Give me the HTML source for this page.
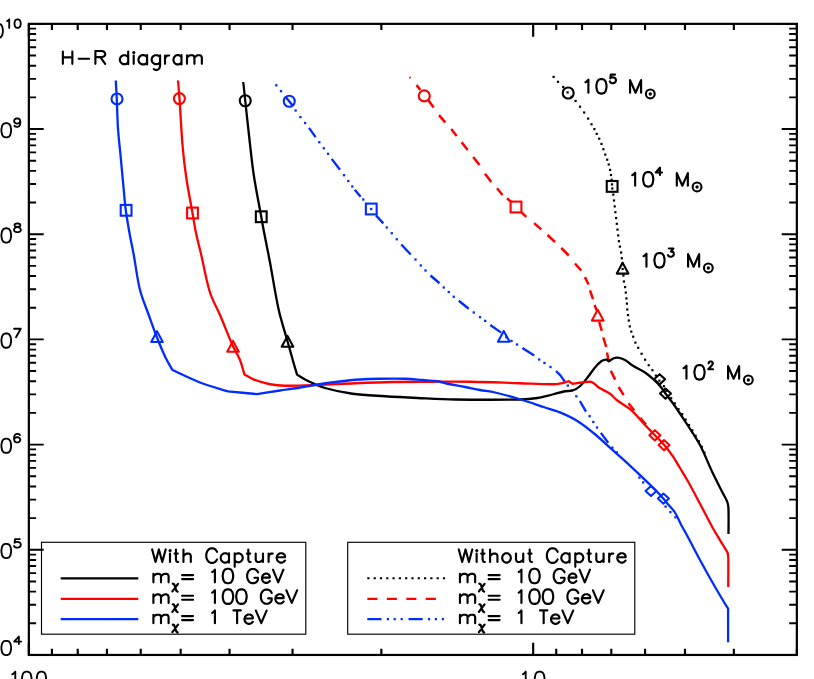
<!DOCTYPE html>
<html><head><meta charset="utf-8"><title>H-R diagram</title>
<style>html,body{margin:0;padding:0;background:#fff;font-family:"Liberation Sans",sans-serif;}svg{display:block}</style>
</head><body>
<svg width="814" height="679" viewBox="0 0 814 679">
<rect width="814" height="679" fill="#fff"/>
<rect x="28.85" y="23.85" width="768.00" height="631.10" fill="none" stroke="#000" stroke-width="2.2"/>
<path d="M28.85 654.95 H43.70 M796.85 654.95 H781.70 M28.85 623.29 H36.10 M796.85 623.29 H789.20 M28.85 604.76 H36.10 M796.85 604.76 H789.20 M28.85 591.62 H36.10 M796.85 591.62 H789.20 M28.85 581.43 H36.10 M796.85 581.43 H789.20 M28.85 573.10 H36.10 M796.85 573.10 H789.20 M28.85 566.06 H36.10 M796.85 566.06 H789.20 M28.85 559.96 H36.10 M796.85 559.96 H789.20 M28.85 554.58 H36.10 M796.85 554.58 H789.20 M28.85 549.77 H43.70 M796.85 549.77 H781.70 M28.85 518.10 H36.10 M796.85 518.10 H789.20 M28.85 499.58 H36.10 M796.85 499.58 H789.20 M28.85 486.44 H36.10 M796.85 486.44 H789.20 M28.85 476.25 H36.10 M796.85 476.25 H789.20 M28.85 467.92 H36.10 M796.85 467.92 H789.20 M28.85 460.88 H36.10 M796.85 460.88 H789.20 M28.85 454.78 H36.10 M796.85 454.78 H789.20 M28.85 449.40 H36.10 M796.85 449.40 H789.20 M28.85 444.58 H43.70 M796.85 444.58 H781.70 M28.85 412.92 H36.10 M796.85 412.92 H789.20 M28.85 394.40 H36.10 M796.85 394.40 H789.20 M28.85 381.26 H36.10 M796.85 381.26 H789.20 M28.85 371.06 H36.10 M796.85 371.06 H789.20 M28.85 362.73 H36.10 M796.85 362.73 H789.20 M28.85 355.69 H36.10 M796.85 355.69 H789.20 M28.85 349.59 H36.10 M796.85 349.59 H789.20 M28.85 344.21 H36.10 M796.85 344.21 H789.20 M28.85 339.40 H43.70 M796.85 339.40 H781.70 M28.85 307.74 H36.10 M796.85 307.74 H789.20 M28.85 289.21 H36.10 M796.85 289.21 H789.20 M28.85 276.07 H36.10 M796.85 276.07 H789.20 M28.85 265.88 H36.10 M796.85 265.88 H789.20 M28.85 257.55 H36.10 M796.85 257.55 H789.20 M28.85 250.51 H36.10 M796.85 250.51 H789.20 M28.85 244.41 H36.10 M796.85 244.41 H789.20 M28.85 239.03 H36.10 M796.85 239.03 H789.20 M28.85 234.22 H43.70 M796.85 234.22 H781.70 M28.85 202.55 H36.10 M796.85 202.55 H789.20 M28.85 184.03 H36.10 M796.85 184.03 H789.20 M28.85 170.89 H36.10 M796.85 170.89 H789.20 M28.85 160.70 H36.10 M796.85 160.70 H789.20 M28.85 152.37 H36.10 M796.85 152.37 H789.20 M28.85 145.33 H36.10 M796.85 145.33 H789.20 M28.85 139.23 H36.10 M796.85 139.23 H789.20 M28.85 133.85 H36.10 M796.85 133.85 H789.20 M28.85 129.03 H43.70 M796.85 129.03 H781.70 M28.85 97.37 H36.10 M796.85 97.37 H789.20 M28.85 78.85 H36.10 M796.85 78.85 H789.20 M28.85 65.71 H36.10 M796.85 65.71 H789.20 M28.85 55.51 H36.10 M796.85 55.51 H789.20 M28.85 47.18 H36.10 M796.85 47.18 H789.20 M28.85 40.14 H36.10 M796.85 40.14 H789.20 M28.85 34.04 H36.10 M796.85 34.04 H789.20 M28.85 28.66 H36.10 M796.85 28.66 H789.20 M28.85 23.85 H43.70 M796.85 23.85 H781.70" fill="none" stroke="#000" stroke-width="1.9"/>
<path d="M28.85 654.95 V642.65 M28.85 23.85 V36.70 M51.93 654.95 V648.80 M51.93 23.85 V30.00 M77.72 654.95 V648.80 M77.72 23.85 V30.00 M106.97 654.95 V648.80 M106.97 23.85 V30.00 M140.73 654.95 V648.80 M140.73 23.85 V30.00 M180.66 654.95 V648.80 M180.66 23.85 V30.00 M229.53 654.95 V648.80 M229.53 23.85 V30.00 M292.54 654.95 V648.80 M292.54 23.85 V30.00 M381.35 654.95 V648.80 M381.35 23.85 V30.00 M533.16 654.95 V642.65 M533.16 23.85 V36.70 M556.23 654.95 V648.80 M556.23 23.85 V30.00 M582.03 654.95 V648.80 M582.03 23.85 V30.00 M611.28 654.95 V648.80 M611.28 23.85 V30.00 M645.04 654.95 V648.80 M645.04 23.85 V30.00 M684.97 654.95 V648.80 M684.97 23.85 V30.00 M733.84 654.95 V648.80 M733.84 23.85 V30.00 M796.85 654.95 V648.80 M796.85 23.85 V30.00" fill="none" stroke="#000" stroke-width="2.15"/>
<path d="M11.10 646.93 L10.41 643.52 L9.02 641.48 L6.94 640.80 L5.56 640.80 L3.48 641.48 L2.09 643.52 L1.40 646.93 L1.40 648.97 L2.09 652.38 L3.48 654.42 L5.56 655.10 L6.94 655.10 L9.02 654.42 L10.41 652.38 L11.10 648.97 L11.10 646.93 M21.25 641.60 L14.10 641.60 L18.87 636.60 L18.87 644.10 M11.10 549.95 L10.41 546.54 L9.02 544.50 L6.94 543.82 L5.56 543.82 L3.48 544.50 L2.09 546.54 L1.40 549.95 L1.40 551.99 L2.09 555.39 L3.48 557.44 L5.56 558.12 L6.94 558.12 L9.02 557.44 L10.41 555.39 L11.10 551.99 L11.10 549.95 M14.10 545.99 L14.58 546.80 L15.05 547.21 L16.48 547.62 L17.92 547.62 L19.35 547.21 L20.30 546.40 L20.78 545.17 L20.78 544.36 L20.30 543.14 L19.35 542.32 L17.92 541.92 L16.48 541.92 L15.05 542.32 L14.58 542.73 L15.05 539.07 L19.82 539.07 M11.10 444.76 L10.41 441.36 L9.02 439.31 L6.94 438.63 L5.56 438.63 L3.48 439.31 L2.09 441.36 L1.40 444.76 L1.40 446.80 L2.09 450.21 L3.48 452.25 L5.56 452.93 L6.94 452.93 L9.02 452.25 L10.41 450.21 L11.10 446.80 L11.10 444.76 M19.82 435.10 L19.35 434.29 L17.92 433.88 L16.96 433.88 L15.53 434.29 L14.58 435.51 L14.10 437.55 L14.10 439.58 L14.58 438.36 L15.53 437.55 L16.96 437.14 L17.44 437.14 L18.87 437.55 L19.82 438.36 L20.30 439.58 L20.30 439.99 L19.82 441.21 L18.87 442.03 L17.44 442.43 L16.96 442.43 L15.53 442.03 L14.58 441.21 L14.10 439.58 M11.10 339.58 L10.41 336.17 L9.02 334.13 L6.94 333.45 L5.56 333.45 L3.48 334.13 L2.09 336.17 L1.40 339.58 L1.40 341.62 L2.09 345.03 L3.48 347.07 L5.56 347.75 L6.94 347.75 L9.02 347.07 L10.41 345.03 L11.10 341.62 L11.10 339.58 M14.10 328.70 L20.78 328.70 L16.01 337.25 M11.10 234.40 L10.41 230.99 L9.02 228.95 L6.94 228.27 L5.56 228.27 L3.48 228.95 L2.09 230.99 L1.40 234.40 L1.40 236.44 L2.09 239.84 L3.48 241.89 L5.56 242.57 L6.94 242.57 L9.02 241.89 L10.41 239.84 L11.10 236.44 L11.10 234.40 M14.58 225.55 L14.58 224.74 L15.05 223.92 L16.48 223.52 L18.39 223.52 L19.82 223.92 L20.30 224.74 L20.30 225.55 L19.82 226.37 L18.87 226.77 L16.96 227.18 L15.53 227.59 L14.58 228.40 L14.10 229.22 L14.10 230.44 L14.58 231.25 L15.05 231.66 L16.48 232.07 L18.39 232.07 L19.82 231.66 L20.30 231.25 L20.78 230.44 L20.78 229.22 L20.30 228.40 L19.35 227.59 L17.92 227.18 L16.01 226.77 L15.05 226.37 L14.58 225.55 M11.10 129.21 L10.41 125.81 L9.02 123.76 L6.94 123.08 L5.56 123.08 L3.48 123.76 L2.09 125.81 L1.40 129.21 L1.40 131.25 L2.09 134.66 L3.48 136.70 L5.56 137.38 L6.94 137.38 L9.02 136.70 L10.41 134.66 L11.10 131.25 L11.10 129.21 M20.30 121.18 L19.82 119.55 L18.87 118.74 L17.44 118.33 L16.96 118.33 L15.53 118.74 L14.58 119.55 L14.10 120.78 L14.10 121.18 L14.58 122.40 L15.53 123.22 L16.96 123.63 L17.44 123.63 L18.87 123.22 L19.82 122.40 L20.30 121.18 L20.30 123.22 L19.82 125.25 L18.87 126.48 L17.44 126.88 L16.48 126.88 L15.05 126.48 L14.58 125.66 M2.90 29.83 L2.21 26.42 L0.82 24.38 L-1.26 23.70 L-2.64 23.70 L-4.72 24.38 L-6.11 26.42 L-6.80 29.83 L-6.80 31.87 L-6.11 35.28 L-4.72 37.32 L-2.64 38.00 L-1.26 38.00 L0.82 37.32 L2.21 35.28 L2.90 31.87 L2.90 29.83 M7.20 20.98 L8.00 20.57 L9.20 19.35 L9.20 27.90 M20.70 23.01 L20.26 20.98 L19.37 19.76 L18.04 19.35 L17.16 19.35 L15.83 19.76 L14.94 20.98 L14.50 23.01 L14.50 24.24 L14.94 26.27 L15.83 27.49 L17.16 27.90 L18.04 27.90 L19.37 27.49 L20.26 26.27 L20.70 24.24 L20.70 23.01" fill="none" stroke="#000000" stroke-width="1.85" stroke-linecap="round" stroke-linejoin="round"/>
<path d="M12.20 674.32 L13.44 673.64 L15.30 671.60 L15.30 685.90 M31.50 677.73 L30.82 674.32 L29.46 672.28 L27.43 671.60 L26.07 671.60 L24.04 672.28 L22.68 674.32 L22.00 677.73 L22.00 679.77 L22.68 683.18 L24.04 685.22 L26.07 685.90 L27.43 685.90 L29.46 685.22 L30.82 683.18 L31.50 679.77 L31.50 677.73 M46.10 677.73 L45.44 674.32 L44.11 672.28 L42.11 671.60 L40.79 671.60 L38.79 672.28 L37.46 674.32 L36.80 677.73 L36.80 679.77 L37.46 683.18 L38.79 685.22 L40.79 685.90 L42.11 685.90 L44.11 685.22 L45.44 683.18 L46.10 679.77 L46.10 677.73 M522.95 674.32 L524.05 673.64 L525.70 671.60 L525.70 685.90 M544.50 677.73 L543.81 674.32 L542.42 672.28 L540.34 671.60 L538.96 671.60 L536.88 672.28 L535.49 674.32 L534.80 677.73 L534.80 679.77 L535.49 683.18 L536.88 685.22 L538.96 685.90 L540.34 685.90 L542.42 685.22 L543.81 683.18 L544.50 679.77 L544.50 677.73" fill="none" stroke="#000000" stroke-width="1.85" stroke-linecap="round" stroke-linejoin="round"/>
<rect x="552.50" y="75.80" width="2.20" height="2.20" fill="#000000"/><rect x="556.90" y="80.70" width="2.20" height="2.20" fill="#000000"/><rect x="562.10" y="85.90" width="2.20" height="2.20" fill="#000000"/><rect x="566.50" y="91.30" width="2.20" height="2.20" fill="#000000"/><rect x="570.50" y="95.70" width="2.20" height="2.20" fill="#000000"/><rect x="574.50" y="99.90" width="2.20" height="2.20" fill="#000000"/><rect x="578.90" y="105.60" width="2.20" height="2.20" fill="#000000"/><rect x="583.10" y="111.40" width="2.20" height="2.20" fill="#000000"/><rect x="587.00" y="117.50" width="2.20" height="2.20" fill="#000000"/><rect x="590.40" y="123.20" width="2.20" height="2.20" fill="#000000"/><rect x="593.30" y="128.00" width="2.20" height="2.20" fill="#000000"/><rect x="595.60" y="132.80" width="2.20" height="2.20" fill="#000000"/><rect x="598.10" y="137.60" width="2.20" height="2.20" fill="#000000"/><rect x="600.40" y="142.80" width="2.20" height="2.20" fill="#000000"/><rect x="602.30" y="148.10" width="2.20" height="2.20" fill="#000000"/><rect x="604.20" y="153.50" width="2.20" height="2.20" fill="#000000"/><rect x="606.10" y="158.60" width="2.20" height="2.20" fill="#000000"/><rect x="607.60" y="163.40" width="2.20" height="2.20" fill="#000000"/><rect x="609.00" y="168.80" width="2.20" height="2.20" fill="#000000"/><rect x="609.90" y="173.90" width="2.20" height="2.20" fill="#000000"/><rect x="610.50" y="178.70" width="2.20" height="2.20" fill="#000000"/><rect x="610.90" y="183.30" width="2.20" height="2.20" fill="#000000"/><rect x="611.20" y="187.40" width="2.20" height="2.20" fill="#000000"/><rect x="612.20" y="193.50" width="2.20" height="2.20" fill="#000000"/><rect x="612.90" y="199.40" width="2.20" height="2.20" fill="#000000"/><rect x="613.60" y="205.30" width="2.20" height="2.20" fill="#000000"/><rect x="614.30" y="211.10" width="2.20" height="2.20" fill="#000000"/><rect x="615.00" y="216.90" width="2.20" height="2.20" fill="#000000"/><rect x="615.70" y="222.70" width="2.20" height="2.20" fill="#000000"/><rect x="616.40" y="228.50" width="2.20" height="2.20" fill="#000000"/><rect x="617.10" y="234.30" width="2.20" height="2.20" fill="#000000"/><rect x="617.80" y="240.10" width="2.20" height="2.20" fill="#000000"/><rect x="618.80" y="245.50" width="2.20" height="2.20" fill="#000000"/><rect x="620.00" y="251.40" width="2.20" height="2.20" fill="#000000"/><rect x="620.70" y="257.10" width="2.20" height="2.20" fill="#000000"/><rect x="621.40" y="262.50" width="2.20" height="2.20" fill="#000000"/><rect x="621.50" y="267.90" width="2.20" height="2.20" fill="#000000"/><rect x="622.30" y="274.50" width="2.20" height="2.20" fill="#000000"/><rect x="622.80" y="280.40" width="2.20" height="2.20" fill="#000000"/><rect x="624.00" y="286.00" width="2.20" height="2.20" fill="#000000"/><rect x="624.70" y="291.50" width="2.20" height="2.20" fill="#000000"/><rect x="625.30" y="297.30" width="2.20" height="2.20" fill="#000000"/><rect x="625.80" y="302.50" width="2.20" height="2.20" fill="#000000"/><rect x="626.20" y="308.40" width="2.20" height="2.20" fill="#000000"/><rect x="626.90" y="314.00" width="2.20" height="2.20" fill="#000000"/><rect x="627.70" y="319.40" width="2.20" height="2.20" fill="#000000"/><rect x="628.70" y="325.30" width="2.20" height="2.20" fill="#000000"/><rect x="630.20" y="330.50" width="2.20" height="2.20" fill="#000000"/><rect x="632.10" y="335.60" width="2.20" height="2.20" fill="#000000"/><rect x="634.30" y="341.50" width="2.20" height="2.20" fill="#000000"/><rect x="637.10" y="346.70" width="2.20" height="2.20" fill="#000000"/><rect x="640.50" y="352.70" width="2.20" height="2.20" fill="#000000"/><rect x="644.00" y="358.60" width="2.20" height="2.20" fill="#000000"/><rect x="647.60" y="364.10" width="2.20" height="2.20" fill="#000000"/><rect x="651.30" y="369.10" width="2.20" height="2.20" fill="#000000"/><rect x="654.80" y="374.50" width="2.20" height="2.20" fill="#000000"/><rect x="658.30" y="379.60" width="2.20" height="2.20" fill="#000000"/><rect x="662.80" y="385.10" width="2.20" height="2.20" fill="#000000"/><rect x="665.20" y="389.70" width="2.20" height="2.20" fill="#000000"/><rect x="670.10" y="397.10" width="2.20" height="2.20" fill="#000000"/><rect x="673.70" y="402.30" width="2.20" height="2.20" fill="#000000"/><rect x="677.40" y="408.00" width="2.20" height="2.20" fill="#000000"/><rect x="681.10" y="413.10" width="2.20" height="2.20" fill="#000000"/><rect x="684.50" y="418.50" width="2.20" height="2.20" fill="#000000"/><rect x="687.90" y="423.90" width="2.20" height="2.20" fill="#000000"/><rect x="691.20" y="429.20" width="2.20" height="2.20" fill="#000000"/><rect x="694.50" y="434.70" width="2.20" height="2.20" fill="#000000"/><rect x="697.70" y="440.10" width="2.20" height="2.20" fill="#000000"/><rect x="700.70" y="445.70" width="2.20" height="2.20" fill="#000000"/><rect x="703.30" y="451.50" width="2.20" height="2.20" fill="#000000"/>
<path d="M409.60 77.10 L410.40 78.00 M416.60 84.90 L420.30 90.00 M428.30 100.00 L433.60 107.40 M439.00 115.10 L445.20 122.40 M451.25 129.10 L456.70 136.10 M461.60 142.30 L467.70 150.10 M473.20 157.00 L479.50 165.00 M485.00 173.75 L491.25 182.00 M497.00 188.25 L502.50 195.00 M507.00 198.25 L511.25 202.00 M521.25 212.20 L526.25 216.90 M534.10 223.10 L541.25 229.40 M547.50 235.00 L555.00 242.00 M561.25 248.00 L568.75 255.50 M575.00 263.50 L581.20 270.50 M584.90 277.10 L588.60 284.50 M590.00 290.30 L593.00 299.20 M594.50 305.00 L597.50 312.00 M599.20 322.00 L601.80 330.80 M603.30 337.50 L606.20 347.00 M607.00 352.50 L608.80 361.50 M610.80 370.80 L615.20 379.60 M618.60 387.00 L623.60 395.10 M628.40 403.20 L634.30 410.50 M640.20 417.90 L646.10 424.50" fill="none" stroke="#ff0000" stroke-width="2.50" stroke-linecap="butt"/>
<path d="M285.70 97.10 L292.80 105.80 M309.00 127.90 L315.60 137.10 M331.70 158.90 L340.00 169.80 M354.80 189.80 L360.60 196.80 M376.00 215.40 L383.30 223.40 M401.25 244.50 L410.75 254.50 M430.50 275.50 L439.50 283.25 M458.75 300.75 L468.75 308.75 M490.30 325.00 L501.20 332.60 M522.40 348.00 L534.20 355.60 M556.00 371.00 L560.60 375.60 M560.60 375.60 L564.80 381.60 M579.90 401.00 L586.00 411.60 M600.90 432.90 L608.20 442.80" fill="none" stroke="#002dff" stroke-width="2.35" stroke-linecap="butt"/>
<rect x="275.15" y="84.15" width="2.30" height="2.30" fill="#002dff"/><rect x="279.85" y="90.05" width="2.30" height="2.30" fill="#002dff"/><rect x="294.45" y="109.35" width="2.30" height="2.30" fill="#002dff"/><rect x="299.25" y="115.95" width="2.30" height="2.30" fill="#002dff"/><rect x="303.95" y="121.85" width="2.30" height="2.30" fill="#002dff"/><rect x="318.15" y="141.05" width="2.30" height="2.30" fill="#002dff"/><rect x="322.65" y="147.15" width="2.30" height="2.30" fill="#002dff"/><rect x="326.95" y="152.65" width="2.30" height="2.30" fill="#002dff"/><rect x="342.85" y="174.05" width="2.30" height="2.30" fill="#002dff"/><rect x="347.15" y="179.85" width="2.30" height="2.30" fill="#002dff"/><rect x="351.15" y="185.35" width="2.30" height="2.30" fill="#002dff"/><rect x="362.15" y="198.35" width="2.30" height="2.30" fill="#002dff"/><rect x="370.05" y="207.85" width="2.30" height="2.30" fill="#002dff"/><rect x="385.60" y="226.35" width="2.30" height="2.30" fill="#002dff"/><rect x="390.60" y="232.10" width="2.30" height="2.30" fill="#002dff"/><rect x="395.60" y="238.10" width="2.30" height="2.30" fill="#002dff"/><rect x="414.35" y="258.35" width="2.30" height="2.30" fill="#002dff"/><rect x="419.60" y="264.35" width="2.30" height="2.30" fill="#002dff"/><rect x="424.35" y="269.35" width="2.30" height="2.30" fill="#002dff"/><rect x="442.60" y="286.35" width="2.30" height="2.30" fill="#002dff"/><rect x="447.60" y="290.85" width="2.30" height="2.30" fill="#002dff"/><rect x="452.60" y="295.60" width="2.30" height="2.30" fill="#002dff"/><rect x="472.60" y="311.35" width="2.30" height="2.30" fill="#002dff"/><rect x="478.85" y="316.05" width="2.30" height="2.30" fill="#002dff"/><rect x="484.05" y="319.75" width="2.30" height="2.30" fill="#002dff"/><rect x="505.15" y="336.05" width="2.30" height="2.30" fill="#002dff"/><rect x="510.35" y="339.75" width="2.30" height="2.30" fill="#002dff"/><rect x="515.95" y="343.35" width="2.30" height="2.30" fill="#002dff"/><rect x="538.05" y="358.35" width="2.30" height="2.30" fill="#002dff"/><rect x="543.35" y="361.85" width="2.30" height="2.30" fill="#002dff"/><rect x="549.35" y="365.85" width="2.30" height="2.30" fill="#002dff"/><rect x="566.65" y="384.45" width="2.30" height="2.30" fill="#002dff"/><rect x="570.45" y="389.25" width="2.30" height="2.30" fill="#002dff"/><rect x="575.15" y="395.15" width="2.30" height="2.30" fill="#002dff"/><rect x="588.45" y="415.05" width="2.30" height="2.30" fill="#002dff"/><rect x="592.15" y="420.85" width="2.30" height="2.30" fill="#002dff"/><rect x="595.85" y="426.35" width="2.30" height="2.30" fill="#002dff"/><rect x="611.25" y="446.55" width="2.30" height="2.30" fill="#002dff"/><rect x="615.65" y="451.25" width="2.30" height="2.30" fill="#002dff"/><rect x="638.25" y="476.45" width="2.30" height="2.30" fill="#002dff"/><rect x="642.05" y="481.25" width="2.30" height="2.30" fill="#002dff"/><rect x="664.45" y="505.45" width="2.30" height="2.30" fill="#002dff"/><rect x="669.25" y="510.95" width="2.30" height="2.30" fill="#002dff"/><rect x="674.25" y="516.15" width="2.30" height="2.30" fill="#002dff"/>
<path d="M243.25 82.00 C243.92 88.25 244.57 94.50 245.25 100.75 C246.57 113.00 247.85 125.26 249.25 137.50 C250.68 150.01 251.87 162.55 253.75 175.00 C255.87 188.98 258.75 202.83 261.25 216.75 C262.16 221.83 263.03 226.93 264.00 232.00 C265.95 242.18 268.07 252.32 270.00 262.50 C272.99 278.32 275.26 294.28 278.75 310.00 C281.10 320.56 284.58 330.83 287.50 341.25 C289.58 348.67 291.63 356.09 293.75 363.50 C294.80 367.18 295.92 370.83 297.00 374.50 C300.50 376.58 303.83 378.98 307.50 380.75 C313.19 383.49 318.93 386.25 325.00 388.00 C334.00 390.60 343.22 392.47 352.50 393.75 C363.26 395.23 374.16 395.54 385.00 396.25 C395.83 396.96 406.66 397.50 417.50 398.00 C430.00 398.58 442.49 399.32 455.00 399.50 C476.66 399.82 498.34 399.89 520.00 399.50 C525.85 399.39 531.71 398.89 537.50 398.00 C542.57 397.22 547.51 395.72 552.50 394.50 C556.68 393.47 560.78 392.09 565.00 391.25 C567.46 390.76 570.12 391.29 572.50 390.50 C575.23 389.59 577.83 388.13 580.00 386.25 C582.90 383.73 585.10 380.50 587.50 377.50 C590.10 374.25 592.31 370.68 595.00 367.50 C596.90 365.25 598.85 362.96 601.25 361.25 C602.69 360.23 604.58 360.08 606.25 359.50 C607.08 360.08 607.92 360.67 608.75 361.25 C610.42 360.25 611.94 358.96 613.75 358.25 C615.08 357.72 616.58 357.38 618.00 357.60 C620.44 357.98 622.84 358.81 625.00 360.00 C627.73 361.51 629.85 363.95 632.50 365.60 C636.54 368.12 641.03 369.87 645.00 372.50 C648.16 374.59 650.98 377.16 653.80 379.70 C655.99 381.67 658.12 383.73 660.00 386.00 C662.70 389.26 664.98 392.85 667.50 396.25 C669.98 399.60 672.62 402.83 675.00 406.25 C679.29 412.42 683.43 418.69 687.50 425.00 C691.76 431.61 696.34 438.04 700.00 445.00 C704.69 453.91 708.19 463.40 712.50 472.50 C715.69 479.24 719.17 485.83 722.50 492.50 C724.17 495.83 726.29 498.97 727.50 502.50 C728.32 504.89 728.42 507.48 728.50 510.00 C728.75 518.00 728.50 526.00 728.50 534.00" fill="none" stroke="#000000" stroke-width="2.30" stroke-linejoin="round" stroke-linecap="butt"/>
<path d="M178.00 80.50 C178.50 86.50 179.08 92.49 179.50 98.50 C180.58 113.99 181.18 129.52 182.50 145.00 C183.43 155.87 184.66 166.71 186.25 177.50 C188.00 189.39 190.43 201.16 192.50 213.00 C193.61 219.33 194.49 225.71 195.80 232.00 C197.41 239.71 199.45 247.33 201.25 255.00 C204.18 267.50 206.17 280.25 210.00 292.50 C212.45 300.33 216.77 307.45 220.00 315.00 C224.44 325.37 228.42 335.94 233.00 346.25 C235.09 350.95 238.07 355.23 240.00 360.00 C241.91 364.72 243.00 369.73 244.50 374.60 C247.67 376.27 250.65 378.33 254.00 379.60 C259.19 381.57 264.55 383.17 270.00 384.25 C274.93 385.23 279.98 385.67 285.00 385.75 C295.83 385.92 306.67 385.39 317.50 385.00 C330.01 384.55 342.50 383.75 355.00 383.25 C367.50 382.75 380.00 382.25 392.50 382.00 C405.00 381.75 417.50 381.79 430.00 381.75 C443.33 381.71 456.67 381.53 470.00 381.75 C486.67 382.03 503.33 382.74 520.00 383.25 C530.83 383.58 541.66 384.31 552.50 384.25 C555.86 384.23 559.20 383.61 562.50 383.00 C564.63 382.61 566.67 381.83 568.75 381.25 C570.00 382.08 571.25 382.92 572.50 383.75 C575.83 383.33 579.16 382.88 582.50 382.50 C585.00 382.21 587.49 381.58 590.00 381.75 C591.34 381.84 592.62 382.51 593.75 383.25 C595.58 384.45 596.91 386.31 598.75 387.50 C602.35 389.83 606.49 391.29 610.00 393.75 C612.48 395.49 614.20 398.15 616.60 400.00 C621.12 403.48 626.41 405.94 630.70 409.70 C635.86 414.22 640.09 419.71 644.80 424.70 C648.05 428.14 651.32 431.58 654.60 435.00 C657.82 438.35 661.28 441.47 664.30 445.00 C667.46 448.69 670.36 452.59 673.10 456.60 C675.60 460.27 677.71 464.20 680.00 468.00 C682.51 472.16 685.13 476.26 687.50 480.50 C691.80 488.18 695.87 495.98 700.00 503.75 C704.20 511.65 708.14 519.69 712.50 527.50 C716.06 533.86 720.00 540.00 723.75 546.25 C725.00 548.33 726.60 550.24 727.50 552.50 C728.13 554.06 728.21 555.82 728.25 557.50 C728.46 567.33 728.25 577.17 728.25 587.00" fill="none" stroke="#ff0000" stroke-width="2.30" stroke-linejoin="round" stroke-linecap="butt"/>
<path d="M115.75 80.50 C116.08 86.58 116.47 92.66 116.75 98.75 C117.22 108.75 117.33 118.76 118.00 128.75 C118.58 137.52 119.68 146.25 120.50 155.00 C121.60 166.67 122.64 178.34 123.75 190.00 C124.39 196.67 124.87 203.36 125.75 210.00 C126.72 217.36 128.00 224.69 129.30 232.00 C130.67 239.69 132.33 247.32 133.75 255.00 C135.90 266.65 137.13 278.50 140.00 290.00 C142.14 298.57 145.77 306.69 148.75 315.00 C151.44 322.52 154.07 330.07 157.00 337.50 C159.66 344.24 162.38 350.96 165.50 357.50 C167.56 361.81 170.17 365.83 172.50 370.00 C181.67 374.17 190.60 378.88 200.00 382.50 C209.17 386.03 218.73 388.43 228.10 391.40 C237.70 392.30 247.30 393.20 256.90 394.10 C264.60 392.90 272.29 391.66 280.00 390.50 C285.83 389.62 291.68 388.93 297.50 388.00 C304.18 386.93 310.81 385.54 317.50 384.50 C324.15 383.46 330.82 382.54 337.50 381.75 C344.99 380.87 352.48 380.03 360.00 379.50 C366.65 379.03 373.33 378.86 380.00 378.75 C388.33 378.61 396.67 378.51 405.00 378.75 C410.85 378.92 416.67 379.55 422.50 380.00 C427.50 380.38 432.54 380.51 437.50 381.25 C440.90 381.76 444.14 383.05 447.50 383.75 C453.31 384.96 459.17 385.88 465.00 387.00 C470.01 387.96 474.98 389.08 480.00 390.00 C484.99 390.91 490.06 391.36 495.00 392.50 C503.41 394.44 511.73 396.77 520.00 399.25 C528.41 401.77 536.66 404.76 545.00 407.50 C550.00 409.14 555.15 410.37 560.00 412.40 C566.08 414.95 572.12 417.70 577.70 421.20 C583.93 425.10 589.63 429.81 595.30 434.50 C601.41 439.56 607.10 445.10 613.00 450.40 C618.90 455.70 624.87 460.92 630.70 466.30 C636.68 471.82 642.56 477.44 648.40 483.10 C651.99 486.58 655.60 490.04 659.00 493.70 C662.39 497.34 665.53 501.21 668.75 505.00 C670.86 507.48 673.28 509.74 675.00 512.50 C677.47 516.45 679.08 520.88 681.25 525.00 C683.25 528.80 685.47 532.47 687.50 536.25 C691.72 544.14 695.75 552.13 700.00 560.00 C704.08 567.55 708.24 575.05 712.50 582.50 C716.58 589.64 720.80 596.69 725.00 603.75 C726.00 605.44 727.07 607.08 728.10 608.75 C728.10 619.92 728.10 631.08 728.10 642.25" fill="none" stroke="#002dff" stroke-width="2.30" stroke-linejoin="round" stroke-linecap="butt"/>
<circle cx="117.00" cy="98.95" r="5.50" fill="none" stroke="#002dff" stroke-width="2.10"/>
<circle cx="179.40" cy="98.60" r="5.50" fill="none" stroke="#ff0000" stroke-width="2.10"/>
<circle cx="245.25" cy="100.75" r="5.50" fill="none" stroke="#000000" stroke-width="2.10"/>
<circle cx="289.25" cy="101.25" r="5.50" fill="none" stroke="#002dff" stroke-width="2.10"/>
<circle cx="424.30" cy="95.90" r="5.50" fill="none" stroke="#ff0000" stroke-width="2.10"/>
<circle cx="568.20" cy="93.00" r="5.50" fill="none" stroke="#000000" stroke-width="2.10"/>
<rect x="120.70" y="204.90" width="10.80" height="10.80" fill="none" stroke="#002dff" stroke-width="2.10"/>
<rect x="187.10" y="207.60" width="10.80" height="10.80" fill="none" stroke="#ff0000" stroke-width="2.10"/>
<rect x="255.85" y="211.35" width="10.80" height="10.80" fill="none" stroke="#000000" stroke-width="2.10"/>
<rect x="365.85" y="203.60" width="10.80" height="10.80" fill="none" stroke="#002dff" stroke-width="2.10"/>
<rect x="510.60" y="201.60" width="10.80" height="10.80" fill="none" stroke="#ff0000" stroke-width="2.10"/>
<rect x="606.75" y="181.00" width="10.80" height="10.80" fill="none" stroke="#000000" stroke-width="2.10"/>
<path d="M151.20 342.00 L157.00 331.20 L162.80 342.00 Z" fill="none" stroke="#002dff" stroke-width="2.10" stroke-linejoin="round"/>
<path d="M227.20 351.70 L233.00 340.90 L238.80 351.70 Z" fill="none" stroke="#ff0000" stroke-width="2.10" stroke-linejoin="round"/>
<path d="M281.70 346.70 L287.50 335.90 L293.30 346.70 Z" fill="none" stroke="#000000" stroke-width="2.10" stroke-linejoin="round"/>
<path d="M497.95 341.70 L503.75 330.90 L509.55 341.70 Z" fill="none" stroke="#002dff" stroke-width="2.10" stroke-linejoin="round"/>
<path d="M591.90 320.60 L597.70 309.80 L603.50 320.60 Z" fill="none" stroke="#ff0000" stroke-width="2.10" stroke-linejoin="round"/>
<path d="M616.80 273.60 L622.60 262.80 L628.40 273.60 Z" fill="none" stroke="#000000" stroke-width="2.10" stroke-linejoin="round"/>
<path d="M654.10 379.30 L659.60 374.20 L665.10 379.30 L659.60 384.40 Z" fill="none" stroke="#000000" stroke-width="2.10" stroke-linejoin="round"/>
<path d="M660.00 393.60 L665.50 388.50 L671.00 393.60 L665.50 398.70 Z" fill="none" stroke="#000000" stroke-width="2.10" stroke-linejoin="round"/>
<path d="M649.35 435.30 L654.85 430.20 L660.35 435.30 L654.85 440.40 Z" fill="none" stroke="#ff0000" stroke-width="2.10" stroke-linejoin="round"/>
<path d="M658.50 445.10 L664.00 440.00 L669.50 445.10 L664.00 450.20 Z" fill="none" stroke="#ff0000" stroke-width="2.10" stroke-linejoin="round"/>
<path d="M645.50 491.00 L651.00 485.90 L656.50 491.00 L651.00 496.10 Z" fill="none" stroke="#002dff" stroke-width="2.10" stroke-linejoin="round"/>
<path d="M657.90 498.60 L663.40 493.50 L668.90 498.60 L663.40 503.70 Z" fill="none" stroke="#002dff" stroke-width="2.10" stroke-linejoin="round"/>
<rect x="41.5" y="542.3" width="264.30" height="91.90" fill="none" stroke="#000" stroke-width="1.15"/>
<rect x="347.7" y="542.3" width="287.10" height="91.90" fill="none" stroke="#000" stroke-width="1.15"/>
<path d="M60.7 578.30 H138.3" stroke="#000000" stroke-width="2.2" fill="none"/>
<path d="M60.7 598.80 H138.3" stroke="#ff0000" stroke-width="2.2" fill="none"/>
<path d="M60.7 619.20 H138.3" stroke="#002dff" stroke-width="2.2" fill="none"/>
<path d="M367.3 578.30 H445.5" stroke="#000000" stroke-width="2.0" fill="none" stroke-dasharray="2.2 4.1"/>
<path d="M367.3 598.80 H437" stroke="#ff0000" stroke-width="2.3" fill="none" stroke-dasharray="10.1 9.4"/>
<path d="M367.3 619.20 H445.5" stroke="#002dff" stroke-width="2.2" fill="none" stroke-dasharray="14.2 5.3 2.2 4.6 2.2 4.8 2.2 5.7"/>
<path d="M153.40 573.80 L153.40 582.30 M153.40 576.23 L155.47 574.41 L156.85 573.80 L158.93 573.80 L160.31 574.41 L161.00 576.23 L161.00 582.30 M161.00 576.23 L163.07 574.41 L164.45 573.80 L166.53 573.80 L167.91 574.41 L168.60 576.23 L168.60 582.30 M182.10 575.15 L193.05 575.15 M182.10 579.15 L193.05 579.15 M212.20 572.02 L213.28 571.41 L214.90 569.60 L214.90 582.30 M233.15 574.96 L232.41 571.51 L230.92 569.44 L228.69 568.75 L227.21 568.75 L224.98 569.44 L223.49 571.51 L222.75 574.96 L222.75 577.04 L223.49 580.49 L224.98 582.56 L227.21 583.25 L228.69 583.25 L230.92 582.56 L232.41 580.49 L233.15 577.04 L233.15 574.96 M258.00 572.36 L257.28 571.01 L255.84 569.67 L254.40 569.00 L251.52 569.00 L250.08 569.67 L248.64 571.01 L247.92 572.36 L247.20 574.37 L247.20 577.73 L247.92 579.74 L248.64 581.09 L250.08 582.43 L251.52 583.10 L254.40 583.10 L255.84 582.43 L257.28 581.09 L258.00 579.74 L258.00 577.73 L254.40 577.73 M262.00 577.59 L269.80 577.59 L269.80 576.26 L269.15 574.93 L268.50 574.26 L267.20 573.60 L265.25 573.60 L263.95 574.26 L262.65 575.59 L262.00 577.59 L262.00 578.91 L262.65 580.91 L263.95 582.24 L265.25 582.90 L267.20 582.90 L268.50 582.24 L269.80 580.91 M273.00 569.70 L278.20 582.30 L283.40 569.70 M153.40 594.40 L153.40 602.90 M153.40 596.83 L155.47 595.01 L156.85 594.40 L158.93 594.40 L160.31 595.01 L161.00 596.83 L161.00 602.90 M161.00 596.83 L163.07 595.01 L164.45 594.40 L166.53 594.40 L167.91 595.01 L168.60 596.83 L168.60 602.90 M182.10 595.75 L193.05 595.75 M182.10 599.75 L193.05 599.75 M212.20 592.62 L213.28 592.01 L214.90 590.20 L214.90 602.90 M233.15 595.56 L232.41 592.11 L230.92 590.04 L228.69 589.35 L227.21 589.35 L224.98 590.04 L223.49 592.11 L222.75 595.56 L222.75 597.64 L223.49 601.09 L224.98 603.16 L227.21 603.85 L228.69 603.85 L230.92 603.16 L232.41 601.09 L233.15 597.64 L233.15 595.56 M246.65 595.56 L245.91 592.11 L244.42 590.04 L242.19 589.35 L240.71 589.35 L238.48 590.04 L236.99 592.11 L236.25 595.56 L236.25 597.64 L236.99 601.09 L238.48 603.16 L240.71 603.85 L242.19 603.85 L244.42 603.16 L245.91 601.09 L246.65 597.64 L246.65 595.56 M271.70 592.96 L270.98 591.61 L269.54 590.27 L268.10 589.60 L265.22 589.60 L263.78 590.27 L262.34 591.61 L261.62 592.96 L260.90 594.97 L260.90 598.33 L261.62 600.34 L262.34 601.69 L263.78 603.03 L265.22 603.70 L268.10 603.70 L269.54 603.03 L270.98 601.69 L271.70 600.34 L271.70 598.33 L268.10 598.33 M275.35 598.19 L283.65 598.19 L283.65 596.86 L282.96 595.53 L282.27 594.86 L280.88 594.20 L278.81 594.20 L277.43 594.86 L276.04 596.19 L275.35 598.19 L275.35 599.51 L276.04 601.51 L277.43 602.84 L278.81 603.50 L280.88 603.50 L282.27 602.84 L283.65 601.51 M286.40 590.30 L291.75 602.90 L297.10 590.30 M153.40 614.70 L153.40 623.20 M153.40 617.13 L155.47 615.31 L156.85 614.70 L158.93 614.70 L160.31 615.31 L161.00 617.13 L161.00 623.20 M161.00 617.13 L163.07 615.31 L164.45 614.70 L166.53 614.70 L167.91 615.31 L168.60 617.13 L168.60 623.20 M182.10 616.05 L193.05 616.05 M182.10 620.05 L193.05 620.05 M212.20 612.92 L213.28 612.31 L214.90 610.50 L214.90 623.20 M233.45 610.40 L240.80 610.40 M237.12 610.40 L237.12 623.20 M244.50 618.49 L252.80 618.49 L252.80 617.16 L252.11 615.83 L251.42 615.16 L250.03 614.50 L247.96 614.50 L246.57 615.16 L245.19 616.49 L244.50 618.49 L244.50 619.81 L245.19 621.81 L246.57 623.14 L247.96 623.80 L250.03 623.80 L251.42 623.14 L252.80 621.81 M255.90 610.60 L261.25 623.20 L266.60 610.60 M459.95 573.80 L459.95 582.30 M459.95 576.23 L462.02 574.41 L463.40 573.80 L465.48 573.80 L466.86 574.41 L467.55 576.23 L467.55 582.30 M467.55 576.23 L469.62 574.41 L471.00 573.80 L473.08 573.80 L474.46 574.41 L475.15 576.23 L475.15 582.30 M488.65 575.15 L499.60 575.15 M488.65 579.15 L499.60 579.15 M518.75 572.02 L519.83 571.41 L521.45 569.60 L521.45 582.30 M539.70 574.96 L538.96 571.51 L537.47 569.44 L535.24 568.75 L533.76 568.75 L531.53 569.44 L530.04 571.51 L529.30 574.96 L529.30 577.04 L530.04 580.49 L531.53 582.56 L533.76 583.25 L535.24 583.25 L537.47 582.56 L538.96 580.49 L539.70 577.04 L539.70 574.96 M564.55 572.36 L563.83 571.01 L562.39 569.67 L560.95 569.00 L558.07 569.00 L556.63 569.67 L555.19 571.01 L554.47 572.36 L553.75 574.37 L553.75 577.73 L554.47 579.74 L555.19 581.09 L556.63 582.43 L558.07 583.10 L560.95 583.10 L562.39 582.43 L563.83 581.09 L564.55 579.74 L564.55 577.73 L560.95 577.73 M568.55 577.59 L576.35 577.59 L576.35 576.26 L575.70 574.93 L575.05 574.26 L573.75 573.60 L571.80 573.60 L570.50 574.26 L569.20 575.59 L568.55 577.59 L568.55 578.91 L569.20 580.91 L570.50 582.24 L571.80 582.90 L573.75 582.90 L575.05 582.24 L576.35 580.91 M579.55 569.70 L584.75 582.30 L589.95 569.70 M459.95 594.40 L459.95 602.90 M459.95 596.83 L462.02 595.01 L463.40 594.40 L465.48 594.40 L466.86 595.01 L467.55 596.83 L467.55 602.90 M467.55 596.83 L469.62 595.01 L471.00 594.40 L473.08 594.40 L474.46 595.01 L475.15 596.83 L475.15 602.90 M488.65 595.75 L499.60 595.75 M488.65 599.75 L499.60 599.75 M518.75 592.62 L519.83 592.01 L521.45 590.20 L521.45 602.90 M539.70 595.56 L538.96 592.11 L537.47 590.04 L535.24 589.35 L533.76 589.35 L531.53 590.04 L530.04 592.11 L529.30 595.56 L529.30 597.64 L530.04 601.09 L531.53 603.16 L533.76 603.85 L535.24 603.85 L537.47 603.16 L538.96 601.09 L539.70 597.64 L539.70 595.56 M553.20 595.56 L552.46 592.11 L550.97 590.04 L548.74 589.35 L547.26 589.35 L545.03 590.04 L543.54 592.11 L542.80 595.56 L542.80 597.64 L543.54 601.09 L545.03 603.16 L547.26 603.85 L548.74 603.85 L550.97 603.16 L552.46 601.09 L553.20 597.64 L553.20 595.56 M578.25 592.96 L577.53 591.61 L576.09 590.27 L574.65 589.60 L571.77 589.60 L570.33 590.27 L568.89 591.61 L568.17 592.96 L567.45 594.97 L567.45 598.33 L568.17 600.34 L568.89 601.69 L570.33 603.03 L571.77 603.70 L574.65 603.70 L576.09 603.03 L577.53 601.69 L578.25 600.34 L578.25 598.33 L574.65 598.33 M581.90 598.19 L590.20 598.19 L590.20 596.86 L589.51 595.53 L588.82 594.86 L587.43 594.20 L585.36 594.20 L583.98 594.86 L582.59 596.19 L581.90 598.19 L581.90 599.51 L582.59 601.51 L583.98 602.84 L585.36 603.50 L587.43 603.50 L588.82 602.84 L590.20 601.51 M592.95 590.30 L598.30 602.90 L603.65 590.30 M459.95 614.70 L459.95 623.20 M459.95 617.13 L462.02 615.31 L463.40 614.70 L465.48 614.70 L466.86 615.31 L467.55 617.13 L467.55 623.20 M467.55 617.13 L469.62 615.31 L471.00 614.70 L473.08 614.70 L474.46 615.31 L475.15 617.13 L475.15 623.20 M488.65 616.05 L499.60 616.05 M488.65 620.05 L499.60 620.05 M518.75 612.92 L519.83 612.31 L521.45 610.50 L521.45 623.20 M540.00 610.40 L547.35 610.40 M543.67 610.40 L543.67 623.20 M551.05 618.49 L559.35 618.49 L559.35 617.16 L558.66 615.83 L557.97 615.16 L556.58 614.50 L554.51 614.50 L553.12 615.16 L551.74 616.49 L551.05 618.49 L551.05 619.81 L551.74 621.81 L553.12 623.14 L554.51 623.80 L556.58 623.80 L557.97 623.14 L559.35 621.81 M562.45 610.60 L567.80 623.20 L573.15 610.60 M152.15 549.45 L155.53 561.95 L158.90 549.45 L162.28 561.95 L165.65 549.45 M170.00 553.55 L170.00 561.95 M174.57 553.55 L177.79 553.55 M175.95 549.45 L175.95 559.55 L176.41 561.35 L177.33 561.95 L178.25 561.95 M183.45 549.45 L183.45 561.95 M183.45 555.95 L185.45 554.15 L186.79 553.55 L188.80 553.55 L190.13 554.15 L190.80 555.95 L190.80 561.95 M217.00 551.83 L216.29 550.46 L214.86 549.09 L213.43 548.40 L210.58 548.40 L209.15 549.09 L207.73 550.46 L207.01 551.83 L206.30 553.89 L206.30 557.31 L207.01 559.37 L207.73 560.74 L209.15 562.11 L210.58 562.80 L213.43 562.80 L214.86 562.11 L216.29 560.74 L217.00 559.37 M229.00 555.24 L227.62 553.91 L226.23 553.25 L224.16 553.25 L222.77 553.91 L221.39 555.24 L220.70 557.24 L220.70 558.56 L221.39 560.56 L222.77 561.89 L224.16 562.55 L226.23 562.55 L227.62 561.89 L229.00 560.56 M229.00 553.25 L229.00 562.55 M234.70 553.35 L234.70 566.87 M234.70 555.26 L236.03 553.99 L237.37 553.35 L239.37 553.35 L240.70 553.99 L242.03 555.26 L242.70 557.16 L242.70 558.44 L242.03 560.34 L240.70 561.61 L239.37 562.25 L237.37 562.25 L236.03 561.61 L234.70 560.34 M246.92 553.55 L250.14 553.55 M248.30 549.45 L248.30 559.55 L248.76 561.35 L249.68 561.95 L250.60 561.95 M255.70 553.55 L255.70 559.55 L256.36 561.35 L257.69 561.95 L259.68 561.95 L261.01 561.35 L263.00 559.55 M263.00 553.55 L263.00 561.95 M268.60 553.55 L268.60 561.95 M268.60 557.15 L269.11 555.35 L270.14 554.15 L271.16 553.55 L272.70 553.55 M276.70 557.24 L285.00 557.24 L285.00 555.91 L284.31 554.58 L283.62 553.91 L282.23 553.25 L280.16 553.25 L278.77 553.91 L277.39 555.24 L276.70 557.24 L276.70 558.56 L277.39 560.56 L278.77 561.89 L280.16 562.55 L282.23 562.55 L283.62 561.89 L285.00 560.56 M458.80 549.45 L462.17 561.95 L465.55 549.45 L468.92 561.95 L472.30 549.45 M476.65 553.55 L476.65 561.95 M481.22 553.55 L484.44 553.55 M482.60 549.45 L482.60 559.55 L483.06 561.35 L483.98 561.95 L484.90 561.95 M490.10 549.45 L490.10 561.95 M490.10 555.95 L492.10 554.15 L493.44 553.55 L495.45 553.55 L496.78 554.15 L497.45 555.95 L497.45 561.95 M557.60 551.83 L556.89 550.46 L555.46 549.09 L554.03 548.40 L551.18 548.40 L549.75 549.09 L548.33 550.46 L547.61 551.83 L546.90 553.89 L546.90 557.31 L547.61 559.37 L548.33 560.74 L549.75 562.11 L551.18 562.80 L554.03 562.80 L555.46 562.11 L556.89 560.74 L557.60 559.37 M569.60 555.24 L568.22 553.91 L566.83 553.25 L564.76 553.25 L563.38 553.91 L561.99 555.24 L561.30 557.24 L561.30 558.56 L561.99 560.56 L563.38 561.89 L564.76 562.55 L566.83 562.55 L568.22 561.89 L569.60 560.56 M569.60 553.25 L569.60 562.55 M575.30 553.35 L575.30 566.87 M575.30 555.26 L576.63 553.99 L577.97 553.35 L579.97 553.35 L581.30 553.99 L582.63 555.26 L583.30 557.16 L583.30 558.44 L582.63 560.34 L581.30 561.61 L579.97 562.25 L577.97 562.25 L576.63 561.61 L575.30 560.34 M587.52 553.55 L590.74 553.55 M588.90 549.45 L588.90 559.55 L589.36 561.35 L590.28 561.95 L591.20 561.95 M596.30 553.55 L596.30 559.55 L596.96 561.35 L598.29 561.95 L600.28 561.95 L601.61 561.35 L603.60 559.55 M603.60 553.55 L603.60 561.95 M609.20 553.55 L609.20 561.95 M609.20 557.15 L609.71 555.35 L610.74 554.15 L611.76 553.55 L613.30 553.55 M617.30 557.24 L625.60 557.24 L625.60 555.91 L624.91 554.58 L624.22 553.91 L622.83 553.25 L620.76 553.25 L619.38 553.91 L617.99 555.24 L617.30 557.24 L617.30 558.56 L617.99 560.56 L619.38 561.89 L620.76 562.55 L622.83 562.55 L624.22 561.89 L625.60 560.56 M510.80 557.24 L510.14 555.24 L508.82 553.91 L507.49 553.25 L505.51 553.25 L504.18 553.91 L502.86 555.24 L502.20 557.24 L502.20 558.56 L502.86 560.56 L504.18 561.89 L505.51 562.55 L507.49 562.55 L508.82 561.89 L510.14 560.56 L510.80 558.56 L510.80 557.24 M516.00 553.55 L516.00 559.55 L516.66 561.35 L517.98 561.95 L519.95 561.95 L521.27 561.35 L523.25 559.55 M523.25 553.55 L523.25 561.95 M528.32 553.55 L531.54 553.55 M529.70 549.45 L529.70 559.55 L530.16 561.35 L531.08 561.95 L532.00 561.95" fill="none" stroke="#000000" stroke-width="2.15" stroke-linecap="round" stroke-linejoin="round"/>
<path d="M178.00 583.80 L172.40 591.30 M172.80 583.70 L174.10 584.20 L176.40 590.80 L177.60 591.60 M178.00 604.40 L172.40 611.90 M172.80 604.30 L174.10 604.80 L176.40 611.40 L177.60 612.20 M178.00 624.70 L172.40 632.20 M172.80 624.60 L174.10 625.10 L176.40 631.70 L177.60 632.50 M484.55 583.80 L478.95 591.30 M479.35 583.70 L480.65 584.20 L482.95 590.80 L484.15 591.60 M484.55 604.40 L478.95 611.90 M479.35 604.30 L480.65 604.80 L482.95 611.40 L484.15 612.20 M484.55 624.70 L478.95 632.20 M479.35 624.60 L480.65 625.10 L482.95 631.70 L484.15 632.50" fill="none" stroke="#000" stroke-width="2.2" stroke-linecap="round" stroke-linejoin="round"/>
<path d="M62.85 51.50 L62.85 63.85 M62.85 57.38 L72.35 57.38 M72.35 51.50 L72.35 63.85 M78.65 58.75 L89.10 58.75 M95.40 57.12 L101.70 57.12 L103.80 56.51 L104.50 55.90 L105.20 54.67 L105.20 53.45 L104.50 52.22 L103.80 51.61 L101.70 51.00 L95.40 51.00 L95.40 63.85 M100.30 57.12 L105.20 63.85 M128.20 57.16 L126.82 55.89 L125.43 55.25 L123.36 55.25 L121.97 55.89 L120.59 57.16 L119.90 59.06 L119.90 60.34 L120.59 62.24 L121.97 63.51 L123.36 64.15 L125.43 64.15 L126.82 63.51 L128.20 62.24 M128.20 51.50 L128.20 64.15 M133.70 55.45 L133.70 63.85 M147.10 57.14 L145.66 55.81 L144.22 55.15 L142.05 55.15 L140.61 55.81 L139.17 57.14 L138.45 59.14 L138.45 60.46 L139.17 62.46 L140.61 63.79 L142.05 64.45 L144.22 64.45 L145.66 63.79 L147.10 62.46 M147.10 55.15 L147.10 64.45 M160.10 57.16 L158.69 55.89 L157.28 55.25 L155.17 55.25 L153.76 55.89 L152.35 57.16 L151.65 59.06 L151.65 60.34 L152.35 62.24 L153.76 63.51 L155.17 64.15 L157.28 64.15 L158.69 63.51 L160.10 62.24 M153.76 69.07 L155.17 69.89 L157.28 69.89 L158.69 69.07 L159.40 68.25 L160.10 65.79 L160.10 55.25 M165.00 55.45 L165.00 63.85 M165.00 59.05 L165.53 57.25 L166.57 56.05 L167.62 55.45 L169.20 55.45 M181.50 57.14 L180.16 55.81 L178.82 55.15 L176.80 55.15 L175.46 55.81 L174.12 57.14 L173.45 59.14 L173.45 60.46 L174.12 62.46 L175.46 63.79 L176.80 64.45 L178.82 64.45 L180.16 63.79 L181.50 62.46 M181.50 55.15 L181.50 64.45 M187.00 55.20 L187.00 63.85 M187.00 57.67 L189.03 55.82 L190.38 55.20 L192.40 55.20 L193.75 55.82 L194.43 57.67 L194.43 63.85 M194.43 57.67 L196.45 55.82 L197.80 55.20 L199.82 55.20 L201.17 55.82 L201.85 57.67 L201.85 63.85" fill="none" stroke="#000000" stroke-width="2.15" stroke-linecap="round" stroke-linejoin="round"/>
<circle cx="170.10" cy="550.55" r="1.6" fill="#000"/><circle cx="476.75" cy="550.55" r="1.6" fill="#000"/><circle cx="133.80" cy="52.60" r="1.6" fill="#000"/>
<path d="M585.50 82.18 L586.66 81.56 L588.40 79.70 L588.40 92.70 M606.50 85.29 L605.78 81.85 L604.34 79.79 L602.17 79.10 L600.73 79.10 L598.56 79.79 L597.12 81.85 L596.40 85.29 L596.40 87.36 L597.12 90.80 L598.56 92.86 L600.73 93.55 L602.17 93.55 L604.34 92.86 L605.78 90.80 L606.50 87.36 L606.50 85.29 M609.90 81.48 L610.33 82.29 L610.76 82.70 L612.04 83.10 L613.33 83.10 L614.61 82.70 L615.47 81.89 L615.90 80.67 L615.90 79.86 L615.47 78.65 L614.61 77.84 L613.33 77.43 L612.04 77.43 L610.76 77.84 L610.33 78.24 L610.76 74.60 L615.04 74.60 M641.10 92.70 L641.10 80.10 L635.58 92.70 L630.05 80.10 L630.05 92.70 M632.25 175.18 L633.41 174.56 L635.15 172.70 L635.15 185.70 M653.25 178.29 L652.53 174.85 L651.09 172.79 L648.92 172.10 L647.48 172.10 L645.31 172.79 L643.87 174.85 L643.15 178.29 L643.15 180.36 L643.87 183.80 L645.31 185.86 L647.48 186.55 L648.92 186.55 L651.09 185.86 L652.53 183.80 L653.25 180.36 L653.25 178.29 M662.00 172.50 L655.80 172.50 L659.93 167.70 L659.93 174.90 M687.85 185.70 L687.85 173.10 L682.33 185.70 L676.80 173.10 L676.80 185.70 M643.55 256.18 L644.71 255.56 L646.45 253.70 L646.45 266.70 M664.55 259.29 L663.83 255.85 L662.39 253.79 L660.22 253.10 L658.78 253.10 L656.61 253.79 L655.17 255.85 L654.45 259.29 L654.45 261.36 L655.17 264.80 L656.61 266.86 L658.78 267.55 L660.22 267.55 L662.39 266.86 L663.83 264.80 L664.55 261.36 L664.55 259.29 M668.05 255.14 L668.46 255.92 L668.87 256.31 L670.10 256.70 L671.34 256.70 L672.57 256.31 L673.39 255.53 L673.80 254.36 L673.80 253.58 L673.39 252.40 L672.98 252.01 L672.16 251.62 L670.92 251.62 L673.39 248.50 L668.87 248.50 M699.15 266.70 L699.15 254.10 L693.62 266.70 L688.10 254.10 L688.10 266.70 M683.55 368.18 L684.71 367.56 L686.45 365.70 L686.45 378.70 M704.55 371.29 L703.83 367.85 L702.39 365.79 L700.22 365.10 L698.78 365.10 L696.61 365.79 L695.17 367.85 L694.45 371.29 L694.45 373.36 L695.17 376.80 L696.61 378.86 L698.78 379.55 L700.22 379.55 L702.39 378.86 L703.83 376.80 L704.55 373.36 L704.55 371.29 M713.10 369.20 L708.30 369.20 L711.73 365.53 L712.41 364.43 L712.76 363.70 L712.76 362.97 L712.41 362.23 L712.07 361.87 L711.39 361.50 L710.01 361.50 L709.33 361.87 L708.99 362.23 L708.64 362.97 L708.64 363.33 M739.15 378.70 L739.15 366.10 L733.62 378.70 L728.10 366.10 L728.10 378.70" fill="none" stroke="#000000" stroke-width="2.15" stroke-linecap="round" stroke-linejoin="round"/>
<circle cx="650.30" cy="93.95" r="4.4" fill="none" stroke="#000" stroke-width="2.1"/><circle cx="650.30" cy="93.95" r="1.7" fill="#000"/>
<circle cx="697.05" cy="186.95" r="4.4" fill="none" stroke="#000" stroke-width="2.1"/><circle cx="697.05" cy="186.95" r="1.7" fill="#000"/>
<circle cx="708.35" cy="267.95" r="4.4" fill="none" stroke="#000" stroke-width="2.1"/><circle cx="708.35" cy="267.95" r="1.7" fill="#000"/>
<circle cx="748.35" cy="379.95" r="4.4" fill="none" stroke="#000" stroke-width="2.1"/><circle cx="748.35" cy="379.95" r="1.7" fill="#000"/>
</svg>
</body></html>
